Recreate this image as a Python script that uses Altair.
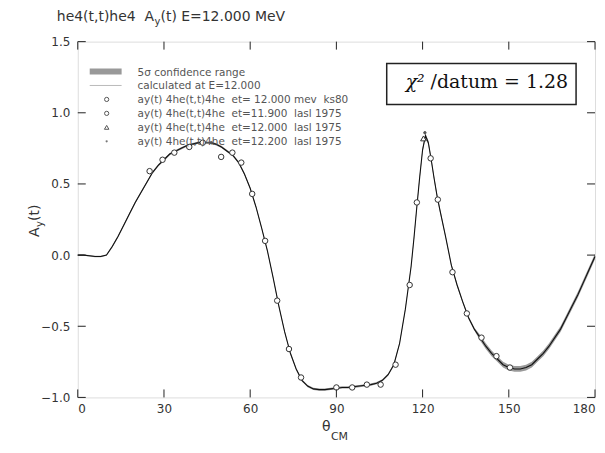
import altair as alt
import pandas as pd

# ---------------- data ----------------
theta_curve = [0, 2, 4, 6, 8, 10, 12, 14, 16, 18, 20, 22, 24, 26, 28, 30, 32, 34, 36, 38,
               40, 42, 44, 46, 48, 50, 52, 54, 56, 58, 60, 62, 64, 66, 68, 70, 72, 74, 76, 78,
               80, 82, 84, 86, 88, 90, 92, 94, 96, 98, 100, 102, 104, 106, 108, 110, 112, 114, 116,
               117, 118, 119, 120, 121, 122, 123, 124, 125, 126,
               128, 130, 132, 134, 136, 138, 140, 142, 144, 146, 148, 150, 152, 154, 156, 158,
               160, 162, 164, 166, 168, 170, 172, 174, 176, 178, 180]
ay_curve = [0.00, 0.00, -0.005, -0.01, -0.01, 0.00, 0.06, 0.13, 0.21, 0.29, 0.37, 0.44, 0.51, 0.58, 0.63, 0.67, 0.71, 0.73, 0.75, 0.77,
            0.78, 0.79, 0.79, 0.79, 0.78, 0.76, 0.73, 0.70, 0.65, 0.57, 0.47, 0.34, 0.19, 0.03, -0.16, -0.36, -0.54, -0.69, -0.80, -0.88,
            -0.92, -0.94, -0.945, -0.945, -0.94, -0.935, -0.93, -0.93, -0.925, -0.92, -0.915, -0.91, -0.90, -0.88, -0.84, -0.77, -0.62, -0.38, -0.08,
            0.12, 0.34, 0.55, 0.74, 0.84, 0.79, 0.67, 0.54, 0.42, 0.32,
            0.13, -0.07, -0.21, -0.33, -0.44, -0.52, -0.58, -0.64, -0.69, -0.73, -0.77, -0.79, -0.80, -0.80, -0.79, -0.77,
            -0.73, -0.69, -0.64, -0.58, -0.52, -0.44, -0.36, -0.28, -0.19, -0.10, -0.01]
band_half = [0.005, 0.005, 0.005, 0.005, 0.005, 0.005, 0.008, 0.008, 0.008, 0.008, 0.008, 0.008, 0.008, 0.008, 0.008, 0.008, 0.008, 0.008, 0.008, 0.008,
             0.008, 0.008, 0.008, 0.008, 0.008, 0.008, 0.008, 0.008, 0.008, 0.008, 0.008, 0.008, 0.008, 0.008, 0.008, 0.008, 0.008, 0.008, 0.008, 0.008,
             0.008, 0.008, 0.008, 0.008, 0.008, 0.008, 0.008, 0.008, 0.008, 0.008, 0.008, 0.008, 0.008, 0.008, 0.008, 0.008, 0.008, 0.008, 0.008,
             0.015, 0.015, 0.015, 0.015, 0.015, 0.015, 0.015, 0.015, 0.015, 0.015,
             0.01, 0.01, 0.01, 0.01, 0.01, 0.01, 0.02, 0.02, 0.02, 0.02, 0.02, 0.02, 0.02, 0.02, 0.02, 0.02,
             0.02, 0.02, 0.02, 0.02, 0.02, 0.02, 0.02, 0.02, 0.02, 0.02, 0.02]

# ay(t) 4he(t,t)4he et=12.000 mev ks80
theta_ks80 = [25.0, 29.5, 33.6, 38.8, 53.8, 56.9, 60.7, 65.2, 69.4, 73.5, 77.7, 90.0, 95.5, 100.6, 105.4,
              110.6, 115.5, 118.0, 122.8, 125.3, 130.4, 135.4, 140.5, 145.7, 150.4]
ay_ks80 = [0.59, 0.67, 0.72, 0.76, 0.72, 0.65, 0.43, 0.10, -0.32, -0.66, -0.86, -0.93, -0.93, -0.91, -0.91,
           -0.77, -0.21, 0.37, 0.68, 0.39, -0.12, -0.41, -0.58, -0.71, -0.79]
# ay(t) 4he(t,t)4he et=11.900 lasl 1975
theta_119 = [43.5, 49.9]
ay_119 = [0.79, 0.69]
# ay(t) 4he(t,t)4he et=12.000 lasl 1975
theta_120 = [120.3]
ay_120 = [0.82]
# ay(t) 4he(t,t)4he et=12.200 lasl 1975
theta_122 = [46.5, 120.8]
ay_122 = [0.79, 0.86]

x_ticks = [0, 30, 60, 90, 120, 150, 180]
y_ticks = [-1.0, -0.5, 0.0, 0.5, 1.0, 1.5]

NB = "\u00a0"
legend_labels = [
    "5σ confidence range",
    "calculated at E=12.000",
    f"ay(t) 4he(t,t)4he {NB}et= 12.000 mev {NB}ks80",
    f"ay(t) 4he(t,t)4he {NB}et=11.900 {NB}lasl 1975",
    f"ay(t) 4he(t,t)4he {NB}et=12.000 {NB}lasl 1975",
    f"ay(t) 4he(t,t)4he {NB}et=12.200 {NB}lasl 1975",
]

# ---------------- chart ----------------
W, H = 519, 357
SANS = "DejaVu Sans"
xs = alt.Scale(domain=[0, 180], nice=False, zero=False)
ys = alt.Scale(domain=[-1.0, 1.5], nice=False, zero=False)
x_axis = alt.Axis(values=x_ticks, ticks=False, domain=False, grid=False, title=None,
                  labelFont=SANS, labelFontSize=12, labelColor="#333", labelPadding=6, format="d")
y_axis = alt.Axis(values=y_ticks, ticks=False, domain=False, grid=False, title=None,
                  labelFont=SANS, labelFontSize=12, labelColor="#333", labelPadding=8, format=".1f")


def X(f="theta"):
    return alt.X(f"{f}:Q", scale=xs, axis=x_axis)


def Y(f="ay"):
    return alt.Y(f"{f}:Q", scale=ys, axis=y_axis)


curve_df = pd.DataFrame({
    "theta": theta_curve,
    "ay": ay_curve,
    "lo": [a - h for a, h in zip(ay_curve, band_half)],
    "hi": [a + h for a, h in zip(ay_curve, band_half)],
})

band = alt.Chart(curve_df).mark_area(color="#9a9a9a", opacity=1).encode(
    x=X(), y=Y("lo"), y2="hi:Q")
line = alt.Chart(curve_df).mark_line(color="#111", strokeWidth=1.1).encode(x=X(), y=Y())


def pts(th, ay, shape, size, fill, stroke="#333"):
    df = pd.DataFrame({"theta": th, "ay": ay})
    return alt.Chart(df).mark_point(shape=shape, size=size, filled=True, fill=fill,
                                    stroke=stroke, strokeWidth=1, opacity=1).encode(x=X(), y=Y())


p1 = pts(theta_ks80, ay_ks80, "circle", 30, "white")
p2 = pts(theta_119, ay_119, "circle", 30, "white")
p3 = pts(theta_120, ay_120, "triangle-up", 32, "white")
p4 = pts(theta_122, ay_122, "circle", 6, "#555", "#555")

xt_df = pd.DataFrame({"theta": x_ticks})
yt_df = pd.DataFrame({"ay": y_ticks})
tick_bottom = alt.Chart(xt_df).mark_rule(color="#222").encode(x=X(), y=alt.value(H - 8), y2=alt.value(H))
tick_top = alt.Chart(xt_df).mark_rule(color="#222").encode(x=X(), y=alt.value(0), y2=alt.value(8))
tick_left = alt.Chart(yt_df).mark_rule(color="#222").encode(y=Y(), x=alt.value(0), x2=alt.value(8))
tick_right = alt.Chart(yt_df).mark_rule(color="#222").encode(y=Y(), x=alt.value(W - 8), x2=alt.value(W))

one = pd.DataFrame({"a": [0]})


def txt(s, x, y, size=12, font=SANS, color="#333", angle=0, style="normal", align="left"):
    kw = dict(font=font, fontSize=size, color=color, align=align, baseline="alphabetic",
              fontStyle=style)
    if angle:
        kw["angle"] = angle
    return alt.Chart(one).mark_text(text=s, **kw).encode(x=alt.value(x), y=alt.value(y))


# legend
leg_rows = [30, 44, 58, 72, 86, 100]
legend = [
    alt.Chart(one).mark_rect(color="#999").encode(x=alt.value(12), x2=alt.value(44),
                                                  y=alt.value(leg_rows[0] - 3), y2=alt.value(leg_rows[0] + 3)),
    alt.Chart(one).mark_rule(color="#bbb", strokeWidth=1).encode(x=alt.value(12), x2=alt.value(44),
                                                                 y=alt.value(leg_rows[1])),
    alt.Chart(one).mark_point(shape="circle", size=18, filled=True, fill="white", stroke="#555",
                              strokeWidth=1, opacity=1).encode(x=alt.value(29), y=alt.value(leg_rows[2])),
    alt.Chart(one).mark_point(shape="circle", size=18, filled=True, fill="white", stroke="#555",
                              strokeWidth=1, opacity=1).encode(x=alt.value(29), y=alt.value(leg_rows[3])),
    alt.Chart(one).mark_point(shape="triangle-up", size=20, filled=True, fill="white", stroke="#555",
                              strokeWidth=1, opacity=1).encode(x=alt.value(29), y=alt.value(leg_rows[4])),
    alt.Chart(one).mark_point(shape="circle", size=5, filled=True, color="#777",
                              opacity=1).encode(x=alt.value(29), y=alt.value(leg_rows[5])),
]
for lab, yy in zip(legend_labels, leg_rows):
    legend.append(txt(lab, 60, yy + 4, size=10.5, color="#555"))

# chi-square box
box = alt.Chart(one).mark_rect(fill="white", stroke="#222", strokeWidth=1.5).encode(
    x=alt.value(310), x2=alt.value(500), y=alt.value(22), y2=alt.value(63))
chi1 = txt("χ²", 329, 47, size=19, font="DejaVu Serif", color="#111", style="italic")
chi2 = txt("/datum = 1.28", 354, 47, size=19, font="DejaVu Serif", color="#111")

# titles
title = [
    txt(f"he4(t,t)he4 {NB}A", -21, -21, size=14, color="#333"),
    txt("y", 77, -17, size=10, color="#333"),
    txt("(t) E=12.000 MeV", 83, -21, size=14, color="#333"),
]
xtitle = [
    txt("θ", 245, 391, size=14, color="#333"),
    txt("CM", 254, 400, size=11, color="#333"),
]
ytitle = [
    txt("A", -39, 196, size=14, color="#333", angle=270),
    txt("y", -35, 186, size=10, color="#333", angle=270),
    txt("(t)", -39, 180, size=14, color="#333", angle=270),
]

chart = alt.layer(
    band, line, p1, p2, p3, p4,
    tick_bottom, tick_top, tick_left, tick_right,
    *legend, box, chi1, chi2, *title, *xtitle, *ytitle,
).properties(
    width=W, height=H,
    autosize=alt.AutoSizeParams(type="none"),
    padding={"left": 70, "top": 33, "right": 2, "bottom": 47},
).configure_view(stroke="#222", strokeWidth=1.5).configure(background="white")

chart.save("out.html", embed_options={"renderer": "svg", "actions": False})
